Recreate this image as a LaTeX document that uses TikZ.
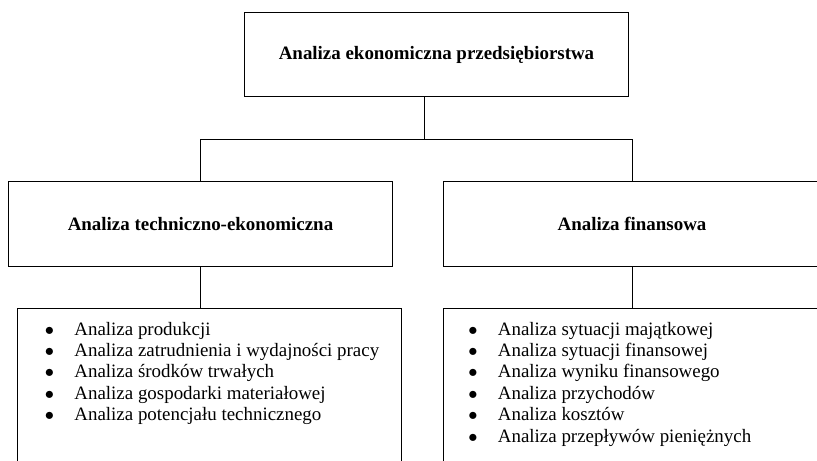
\documentclass[tikz,border=0pt]{standalone}
\usepackage{fontspec}
\setmainfont{Liberation Serif}
\usetikzlibrary{positioning,calc}
\newcommand{\itm}[1]{\makebox[18.2pt][l]{\hspace{-1pt}$\bullet$}#1}

\begin{document}
\begin{tikzpicture}[x=0.65pt, y=-0.65pt, line width=0.65pt,
  font=\fontsize{12.3}{13.9}\selectfont,
  headbox/.style={draw, minimum height=55pt, align=center, font=\fontsize{12.3}{13.9}\selectfont\bfseries},
  listbox/.style={draw, minimum height=108pt},
  itemlist/.style={anchor=north west, inner sep=0pt, align=left}]
  \useasboundingbox (0,0) rectangle (817,460);
  \clip (0,0) rectangle (817,460);
  \node[headbox, minimum width=249pt] (top) at (436.5,54.5) {Analiza ekonomiczna przedsiębiorstwa};
  \node[headbox, minimum width=249pt] (tech) at (200.5,224) {Analiza techniczno-ekonomiczna};
  \node[headbox, minimum width=245.7pt] (fin) at (632,224) {Analiza finansowa};
  \node[listbox, minimum width=249pt] (techlist) at (209.5,392) {};
  \node[listbox, minimum width=245.7pt] (finlist) at (632,392) {};
  \node[itemlist] (techitems) at ([xshift=18.5pt, yshift=-8.5pt]techlist.north west)
    {\itm{Analiza produkcji}\\
     \itm{Analiza zatrudnienia i wydajności pracy}\\
     \itm{Analiza środków trwałych}\\
     \itm{Analiza gospodarki materiałowej}\\
     \itm{Analiza potencjału technicznego}};
  \node[itemlist] (finitems) at ([xshift=17.5pt, yshift=-8.5pt]finlist.north west)
    {\itm{Analiza sytuacji majątkowej}\\
     \itm{Analiza sytuacji finansowej}\\
     \itm{Analiza wyniku finansowego}\\
     \itm{Analiza przychodów}\\
     \itm{Analiza kosztów}\\
     \itm{Analiza przepływów pieniężnych}};
  \coordinate (hub) at (424,139);
  \draw (top.south -| hub) -- (hub);
  \draw (hub) -| (tech.north);
  \draw (hub) -| (fin.north);
  \draw (tech.south) -- (tech.south |- techlist.north);
  \draw (fin.south) -- (finlist.north);
\end{tikzpicture}
\end{document}
